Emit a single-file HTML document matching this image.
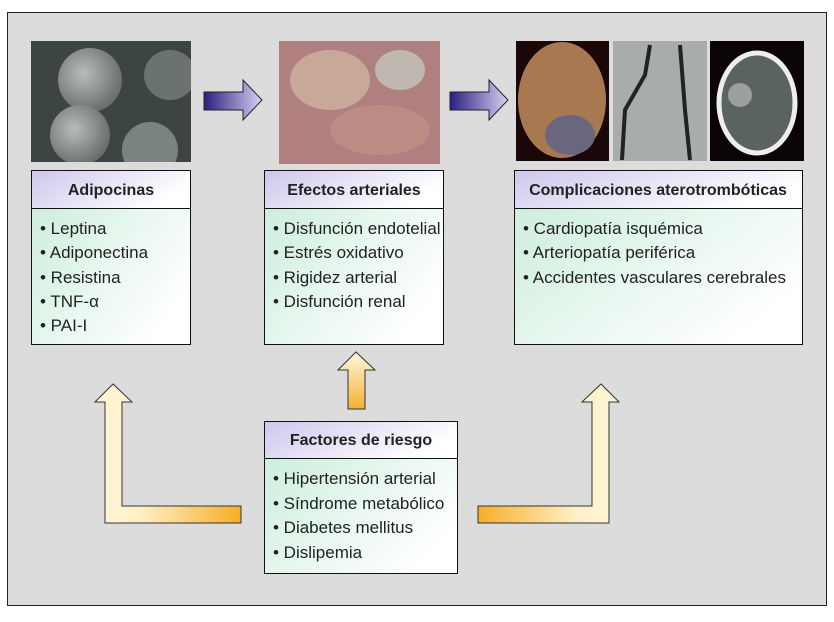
<!DOCTYPE html>
<html><head><meta charset="utf-8"><style>
html,body{margin:0;padding:0;background:#fff;}
svg text{font-family:"Liberation Sans",sans-serif;}
</style></head><body>
<svg width="834" height="617" viewBox="0 0 834 617" xmlns="http://www.w3.org/2000/svg">
<defs>
<linearGradient id="hd" x1="0" y1="0" x2="1" y2="0.4"><stop offset="0" stop-color="#cfc6ec"/><stop offset="1" stop-color="#ffffff"/></linearGradient>
<linearGradient id="bd" x1="0" y1="0" x2="1" y2="0.6"><stop offset="0" stop-color="#cdeedd"/><stop offset="1" stop-color="#ffffff"/></linearGradient>
<linearGradient id="blue" x1="0" y1="0" x2="1" y2="0"><stop offset="0" stop-color="#2a2080"/><stop offset="1" stop-color="#d8d0f4"/></linearGradient>
<linearGradient id="yv" x1="0" y1="0" x2="0" y2="1"><stop offset="0" stop-color="#fff8e0"/><stop offset="1" stop-color="#f6b030"/></linearGradient>
<linearGradient id="yl" x1="0" y1="0" x2="1" y2="0"><stop offset="0" stop-color="#fff6d8"/><stop offset="0.3" stop-color="#fff0c8"/><stop offset="1" stop-color="#f6ae28"/></linearGradient>
<linearGradient id="yr" x1="1" y1="0" x2="0" y2="0"><stop offset="0" stop-color="#fff6d8"/><stop offset="0.3" stop-color="#fff0c8"/><stop offset="1" stop-color="#f6ae28"/></linearGradient>
<radialGradient id="cell" cx="0.4" cy="0.4" r="0.6"><stop offset="0" stop-color="#b8bcbc"/><stop offset="1" stop-color="#6a7070"/></radialGradient>
<clipPath id="c1"><rect x="31" y="41" width="160" height="121"/></clipPath>
<clipPath id="c2"><rect x="279" y="41" width="161" height="123"/></clipPath>
<clipPath id="c3"><rect x="516" y="41" width="93" height="120"/></clipPath>
</defs>
<rect x="0" y="0" width="834" height="617" fill="#fff"/>
<rect x="7.5" y="12.5" width="819" height="593" fill="#dcdcdc" stroke="#222" stroke-width="1"/>

<!-- images -->
<g clip-path="url(#c1)">
<rect x="31" y="41" width="160" height="121" fill="#3c4444"/>
<circle cx="90" cy="80" r="32" fill="url(#cell)"/>
<circle cx="80" cy="135" r="30" fill="url(#cell)"/>
<circle cx="150" cy="150" r="28" fill="#7a8282"/>
<ellipse cx="170" cy="75" rx="26" ry="25" fill="#6a7272"/>
</g>
<g clip-path="url(#c2)">
<rect x="279" y="41" width="161" height="123" fill="#b08080"/>
<ellipse cx="330" cy="80" rx="40" ry="30" fill="#c8a898"/>
<ellipse cx="380" cy="130" rx="50" ry="25" fill="#bc8c84"/>
<ellipse cx="400" cy="70" rx="25" ry="20" fill="#c0b8b0"/>
</g>
<g clip-path="url(#c3)">
<rect x="516" y="41" width="93" height="120" fill="#1a0808"/>
<ellipse cx="562" cy="100" rx="44" ry="58" fill="#a87850"/>
<ellipse cx="570" cy="135" rx="25" ry="20" fill="#6a6680"/>
</g>
<rect x="613" y="41" width="94" height="120" fill="#a8acac"/>
<path d="M650 45 L645 75 L625 110 L622 160 M680 45 L685 110 L690 160" stroke="#222" stroke-width="4" fill="none"/>
<rect x="710" y="41" width="94" height="120" fill="#0a0404"/>
<ellipse cx="757" cy="103" rx="38" ry="50" fill="#5a6262" stroke="#eee" stroke-width="5"/>
<circle cx="740" cy="95" r="12" fill="#9aa0a0"/>

<!-- blue arrows -->
<path d="M204 92 H243 V80 L262 100 L243 120 V110 H204 Z" fill="url(#blue)" stroke="#222"/>
<path d="M450 92 H489 V80 L508 100 L489 120 V110 H450 Z" fill="url(#blue)" stroke="#222"/>

<!-- boxes -->
<g stroke="#111" stroke-width="1">
<rect x="31.5" y="170.5" width="159" height="38" fill="url(#hd)"/>
<rect x="31.5" y="208.5" width="159" height="136" fill="url(#bd)"/>
<rect x="264.5" y="170.5" width="179" height="38" fill="url(#hd)"/>
<rect x="264.5" y="208.5" width="179" height="136" fill="url(#bd)"/>
<rect x="514.5" y="170.5" width="288" height="38" fill="url(#hd)"/>
<rect x="514.5" y="208.5" width="288" height="136" fill="url(#bd)"/>
<rect x="264.5" y="421.5" width="193" height="37" fill="url(#hd)"/>
<rect x="264.5" y="458.5" width="193" height="115" fill="url(#bd)"/>
</g>
<g font-weight="bold" font-size="16" fill="#222" text-anchor="middle">
<text x="111" y="195">Adipocinas</text>
<text x="354" y="195">Efectos arteriales</text>
<text x="658" y="195">Complicaciones aterotrombóticas</text>
<text x="361" y="445">Factores de riesgo</text>
</g>
<g font-size="17" fill="#222">
<text x="40" y="234">• Leptina</text>
<text x="40" y="258">• Adiponectina</text>
<text x="40" y="283">• Resistina</text>
<text x="40" y="307">• TNF-α</text>
<text x="40" y="331">• PAI-I</text>
<text x="273" y="234">• Disfunción endotelial</text>
<text x="273" y="258">• Estrés oxidativo</text>
<text x="273" y="283">• Rigidez arterial</text>
<text x="273" y="307">• Disfunción renal</text>
<text x="523" y="234">• Cardiopatía isquémica</text>
<text x="523" y="258">• Arteriopatía periférica</text>
<text x="523" y="283">• Accidentes vasculares cerebrales</text>
<text x="273" y="484">• Hipertensión arterial</text>
<text x="273" y="509">• Síndrome metabólico</text>
<text x="273" y="533">• Diabetes mellitus</text>
<text x="273" y="558">• Dislipemia</text>
</g>

<!-- yellow arrows -->
<path d="M105 523 V402 H95 L113 384 L132 402 H122 V506 H241 V523 Z" fill="url(#yl)" stroke="#333"/>
<path d="M348 409 V370 H338 L356 352 L375 370 H365 V409 Z" fill="url(#yv)" stroke="#333"/>
<path d="M609 523 V402 H619 L601 384 L582 402 H592 V506 H478 V523 Z" fill="url(#yr)" stroke="#333"/>
</svg>
</body></html>
